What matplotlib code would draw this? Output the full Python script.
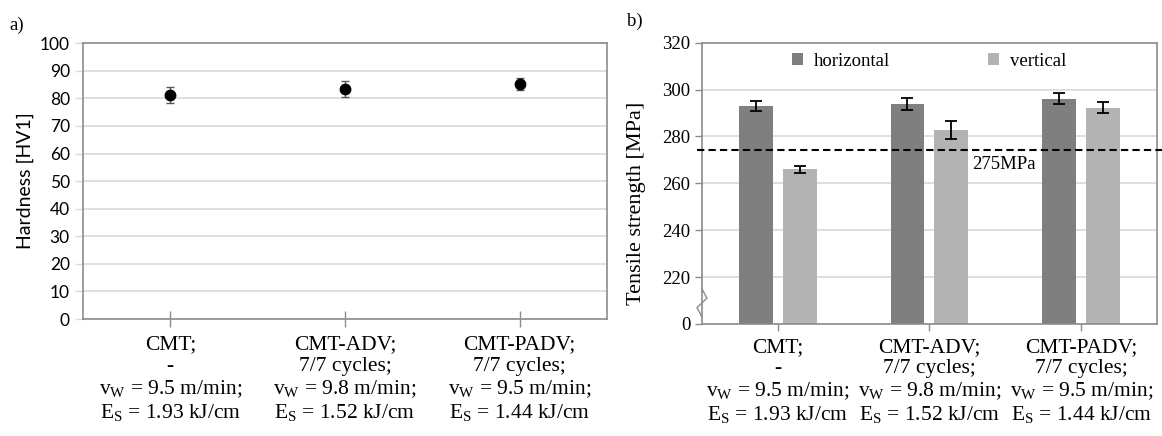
import numpy as np
import matplotlib
matplotlib.use("Agg")
import matplotlib.pyplot as plt
from matplotlib.lines import Line2D

plt.rcParams['mathtext.fontset'] = 'custom'
plt.rcParams['mathtext.rm'] = 'Liberation Serif'

# data
categories = [
    "CMT;\n-\nv$_\\mathregular{W}$ = 9.5 m/min;\nE$_\\mathregular{S}$ = 1.93 kJ/cm",
    "CMT-ADV;\n7/7 cycles;\nv$_\\mathregular{W}$ = 9.8 m/min;\nE$_\\mathregular{S}$ = 1.52 kJ/cm",
    "CMT-PADV;\n7/7 cycles;\nv$_\\mathregular{W}$ = 9.5 m/min;\nE$_\\mathregular{S}$ = 1.44 kJ/cm",
]
hardness = [81.2, 83.3, 85.1]
hardness_err = [2.8, 2.9, 2.1]

tensile_h = [292.9, 293.8, 296.2]
tensile_h_err = [2.1, 2.7, 2.4]
tensile_v = [266.1, 282.8, 292.3]
tensile_v_err = [1.5, 3.7, 2.2]
limit_value = 274.2
limit_label = "275MPa"
y_floor = 200
right_yticks = [200, 220, 240, 260, 280, 300, 320]
right_yticklabels = ["0", "220", "240", "260", "280", "300", "320"]

serif = 'Liberation Serif'
sans = 'Lato'
spine_c = '#8c8c8c'
grid_c = '#d9d9d9'
cat_fs = 15.5

fig = plt.figure(figsize=(11.62, 4.36), dpi=100)

# ---- a) hardness
ax1 = fig.add_axes([0.0714, 0.2683, 0.4510, 0.6327])
x = np.arange(len(categories))
ax1.errorbar(x, hardness, yerr=hardness_err, fmt='o', color='black', ms=7.5,
             ecolor='#595959', elinewidth=1.0, capsize=3, capthick=1.0, zorder=3)
ax1.set_xlim(-0.5, len(categories) - 0.5)
ax1.set_ylim(0, 100)
ax1.set_yticks(np.arange(0, 101, 10))
ax1.yaxis.grid(True, color=grid_c, lw=1.2)
ax1.set_axisbelow(True)
ax1.set_xticks(x)
ax1.set_xticklabels(categories, fontfamily=serif, fontsize=cat_fs, linespacing=1.15)
ax1.tick_params(axis='x', direction='inout', length=12, width=1, color=spine_c, pad=6)
ax1.tick_params(axis='y', direction='out', length=6, width=1, color=grid_c, labelsize=12.5)
for lab in ax1.get_yticklabels():
    lab.set_fontfamily(sans)
ax1.set_ylabel("Hardness [HV1]", fontfamily=sans, fontsize=14, labelpad=4)
for s in ax1.spines.values():
    s.set_color(spine_c)
    s.set_linewidth(1.2)
fig.text(0.008, 0.943, "a)", fontfamily=serif, fontsize=13.5, va='center')

# ---- b) tensile strength
ax2 = fig.add_axes([0.6041, 0.2569, 0.3916, 0.6451])
w = 0.224
off = 0.145
ax2.bar(x - off, np.array(tensile_h) - y_floor, bottom=y_floor, width=w,
        color='#7f7f7f', label='horizontal', zorder=2)
ax2.bar(x + off, np.array(tensile_v) - y_floor, bottom=y_floor, width=w,
        color='#b3b3b3', label='vertical', zorder=2)
ax2.errorbar(x - off, tensile_h, yerr=tensile_h_err, fmt='none', ecolor='black',
             elinewidth=1.3, capsize=4, capthick=1.3, zorder=4)
ax2.errorbar(x + off, tensile_v, yerr=tensile_v_err, fmt='none', ecolor='black',
             elinewidth=1.3, capsize=4, capthick=1.3, zorder=4)
ax2.axhline(limit_value, xmin=-0.012, xmax=1.02, color='black', ls='--', lw=1.5,
            dashes=(3.5, 2), clip_on=False, zorder=5)
ax2.text(1.28, limit_value - 2.4, limit_label, fontfamily=serif, fontsize=13.5,
         va='top', ha='left')
ax2.set_xlim(-0.5, len(categories) - 0.5)
ax2.set_ylim(y_floor, 320)
ax2.set_yticks(right_yticks)
ax2.set_yticklabels(right_yticklabels, fontfamily=serif, fontsize=13.5)
ax2.yaxis.grid(True, color=grid_c, lw=1.2)
ax2.set_axisbelow(True)
ax2.set_xticks(x)
ax2.set_xticklabels(categories, fontfamily=serif, fontsize=cat_fs, linespacing=1.15)
ax2.tick_params(axis='x', direction='out', length=5, width=1, color=spine_c, pad=5)
ax2.tick_params(axis='y', direction='out', length=5, width=1, color=spine_c)
ax2.set_ylabel("Tensile strength [MPa]", fontfamily=serif, fontsize=16)
ax2.yaxis.set_label_coords(-0.122, 0.43)
for s in ax2.spines.values():
    s.set_color(spine_c)
    s.set_linewidth(1.2)

# axis break marker on left spine
trans = ax2.get_yaxis_transform()
px = 1.0 / (0.3916 * 1162)
zz = Line2D([0, 5 * px, -5 * px, 0], [215, 211, 207, 203], transform=trans,
            color=spine_c, lw=1.0, clip_on=False, zorder=6)
ax2.add_line(zz)

ax2.legend(loc='upper left', bbox_to_anchor=(0.16, 1.025), ncol=2, frameon=False,
           prop={'family': serif, 'size': 13.5}, handlelength=0.6, handleheight=0.6,
           columnspacing=5.2, handletextpad=0.6)
fig.text(0.54, 0.95, "b)", fontfamily=serif, fontsize=13.5, va='center')

fig.savefig("out.png", dpi=100)
